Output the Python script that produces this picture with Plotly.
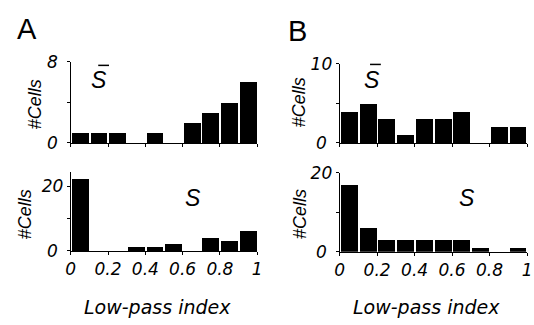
import plotly.graph_objects as go

bin_centers = [0.05, 0.15, 0.25, 0.35, 0.45, 0.55, 0.65, 0.75, 0.85, 0.95]
a_top = [1, 1, 1, 0, 1, 0, 2, 3, 4, 6]
a_bottom = [22, 0, 0, 1, 1, 2, 0, 4, 3, 6]
b_top = [4, 5, 3, 1, 3, 3, 4, 0, 2, 2]
b_bottom = [17, 6, 3, 3, 3, 3, 3, 1, 0, 1]
x_ticks = [0, 0.2, 0.4, 0.6, 0.8, 1]
x_ticktext = ["0", "0.2", "0.4", "0.6", "0.8", "1"]

W, H = 534, 325
FONT = "Liberation Sans"
TFONT = "DejaVu Sans"
PSP = "\u2008"  # punctuation space to centre single-digit labels

def px(x):
    return x / W

def py(y):
    return 1 - y / H

fig = go.Figure()

panels = [
    (a_top, "x", "y", (67, 257), (55, 141.7), [0, 8], [0, 4, 8], ["0" + PSP, "", "8" + PSP], False),
    (a_bottom, "x2", "y2", (67, 257), (173, 256.7), [0, 24.3], [0, 10, 20], ["0" + PSP, "", "20"], True),
    (b_top, "x3", "y3", (341, 532), (57.3, 141.7), [0, 10], [0, 5, 10], ["0" + PSP, "", "10"], False),
    (b_bottom, "x4", "y4", (341, 532), (173.3, 257.7), [0, 20], [0, 10, 20], ["0" + PSP, "", "20"], True),
]

layout = {}
for data, xa, ya, xr, yr, yrange, yt, ytt, showx in panels:
    fig.add_trace(go.Bar(x=bin_centers, y=data, width=0.09, marker=dict(color="black", line=dict(width=0)),
                         xaxis=xa, yaxis=ya, showlegend=False, hoverinfo="x+y"))
    xkey = "xaxis" + xa[1:]
    ykey = "yaxis" + ya[1:]
    layout[xkey] = dict(domain=[px(xr[0]), px(xr[1])], range=[0, 1], anchor=ya,
                        showline=True, linecolor="black", linewidth=1,
                        ticks="outside", ticklen=3, tickwidth=1, tickcolor="black",
                        tickvals=x_ticks, ticktext=x_ticktext if showx else [""] * 6,
                        showticklabels=showx, showgrid=False, zeroline=False,
                        tickfont=dict(family=TFONT, size=17, style="italic", color="black"))
    layout[ykey] = dict(domain=[py(yr[1]), py(yr[0])], range=yrange, anchor=xa,
                        showline=True, linecolor="black", linewidth=1,
                        ticks="outside", ticklen=3, tickwidth=1, tickcolor="black",
                        tickvals=yt, ticktext=ytt, showgrid=False, zeroline=False,
                        tickfont=dict(family=TFONT, size=17, style="italic", color="black"))

fig.update_layout(**layout)

ann = []
def text(x, y, t, size, italic=True, angle=0, family=FONT):
    ann.append(dict(x=px(x), y=py(y), xref="paper", yref="paper", text=t, showarrow=False,
                    textangle=angle, xanchor="center", yanchor="middle",
                    font=dict(family=family, size=size, color="black", style="italic" if italic else "normal")))

text(22, 20, "A", 29, italic=False)
text(298, 22, "B", 29, italic=False)
text(30, 100, "#Cells", 18, angle=-90)
text(20, 218, "#Cells", 18, angle=-90)
text(300, 98, "#Cells", 18, angle=-90)
text(300, 217, "#Cells", 18, angle=-90)
# S-bar labels (S with an overbar drawn as a short line)
text(95.5, 75, "S", 23)
text(373.5, 75, "S", 23)
for x0, x1, yb in [(95, 106, 59), (372, 383, 58)]:
    fig.add_shape(type="line", xref="paper", yref="paper", x0=px(x0), x1=px(x1), y0=py(yb), y1=py(yb),
                  line=dict(color="black", width=1.5))
# S labels
text(192, 200, "S", 23)
text(471, 200, "S", 23)
text(155, 316, "Low-pass index", 19, family=TFONT)
text(430, 316, "Low-pass index", 19, family=TFONT)

fig.update_layout(width=W, height=H, margin=dict(l=0, r=0, t=0, b=0),
                  paper_bgcolor="white", plot_bgcolor="white", bargap=0,
                  annotations=ann)

fig.write_html("out.html")
